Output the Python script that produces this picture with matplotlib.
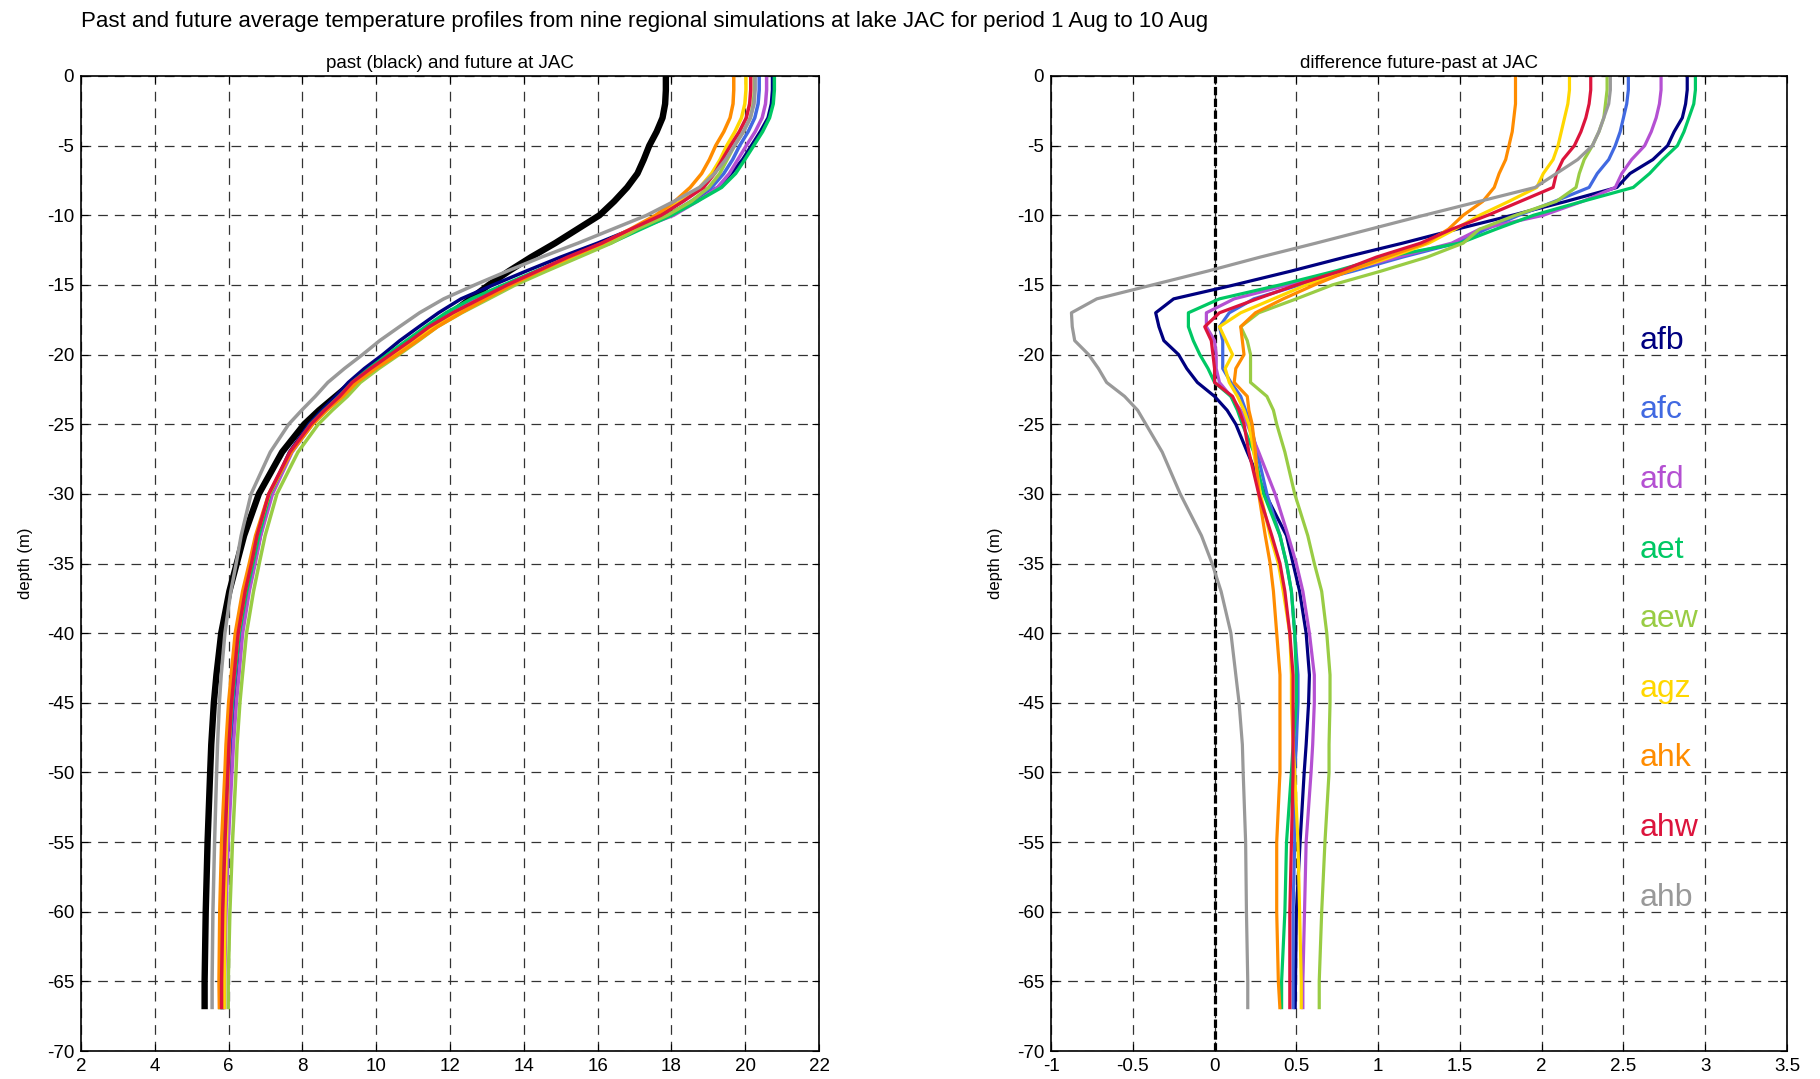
import numpy as np
import matplotlib.pyplot as plt

plt.rcParams['font.family'] = ['Liberation Sans', 'DejaVu Sans']
plt.rcParams['axes.unicode_minus'] = False
plt.rcParams['lines.scale_dashes'] = False

# depth levels (m, positive down)
depth = [0, 1, 2, 3, 4, 5, 6, 7, 8, 9, 10, 11, 12, 13, 14, 15, 16, 17, 18, 19, 20,
         21, 22, 23, 24, 25, 27, 30, 33, 35, 37, 40, 43, 45, 48, 50, 55, 60, 65, 67]

# past profile (black)
past = [17.85, 17.85, 17.83, 17.76, 17.6, 17.4, 17.25, 17.08, 16.8, 16.45, 16.05,
        15.45, 14.85, 14.2, 13.6, 13.05, 12.55, 12.05, 11.5, 10.95, 10.4,
        9.85, 9.35, 8.9, 8.45, 8.05, 7.45, 6.82, 6.42, 6.22, 6.02, 5.8, 5.67, 5.6,
        5.53, 5.5, 5.43, 5.38, 5.35, 5.35]

# difference future - past for each simulation
afb = [2.89, 2.89, 2.88, 2.86, 2.81, 2.77, 2.68, 2.54, 2.46, 2.15, 1.82, 1.48,
       1.15, 0.80, 0.47, 0.12, -0.25, -0.36, -0.34, -0.31, -0.22, -0.17, -0.105,
       0.0, 0.077, 0.13, 0.20, 0.31, 0.44, 0.48, 0.52, 0.56, 0.58, 0.575, 0.56,
       0.548, 0.523, 0.50, 0.495, 0.493]
afc = [2.53, 2.53, 2.52, 2.50, 2.48, 2.45, 2.41, 2.34, 2.29, 2.08, 1.86, 1.66,
       1.48, 1.15, 0.85, 0.52, 0.24, 0.09, 0.03, 0.05, 0.05, 0.05, 0.10, 0.16,
       0.19, 0.22, 0.26, 0.32, 0.40, 0.44, 0.47, 0.49, 0.51, 0.51, 0.50, 0.49,
       0.49, 0.48, 0.48, 0.48]
afd = [2.73, 2.73, 2.72, 2.70, 2.67, 2.63, 2.55, 2.49, 2.45, 2.25, 2.01, 1.62,
       1.45, 1.12, 0.80, 0.45, 0.12, -0.05, -0.05, 0.0, 0.01, 0.01, 0.03, 0.10,
       0.16, 0.20, 0.27, 0.37, 0.45, 0.50, 0.54, 0.58, 0.61, 0.61, 0.60, 0.59,
       0.56, 0.55, 0.54, 0.54]
aet = [2.94, 2.94, 2.93, 2.90, 2.87, 2.83, 2.74, 2.66, 2.56, 2.25, 1.95, 1.72,
       1.50, 1.04, 0.74, 0.40, 0.03, -0.16, -0.16, -0.13, -0.09, -0.04, 0.0,
       0.10, 0.14, 0.17, 0.24, 0.30, 0.40, 0.44, 0.47, 0.49, 0.50, 0.50, 0.48,
       0.47, 0.44, 0.43, 0.41, 0.41]
aew = [2.40, 2.40, 2.39, 2.38, 2.35, 2.31, 2.26, 2.23, 2.21, 2.09, 1.84, 1.62,
       1.52, 1.30, 1.02, 0.72, 0.50, 0.27, 0.16, 0.20, 0.22, 0.22, 0.22, 0.32,
       0.36, 0.38, 0.43, 0.49, 0.57, 0.61, 0.655, 0.686, 0.706, 0.706, 0.70,
       0.70, 0.675, 0.655, 0.64, 0.64]
agz = [2.17, 2.17, 2.16, 2.14, 2.12, 2.10, 2.07, 2.01, 1.97, 1.80, 1.62, 1.47,
       1.31, 1.08, 0.82, 0.56, 0.36, 0.16, 0.03, 0.07, 0.11, 0.065, 0.09, 0.14,
       0.18, 0.21, 0.24, 0.28, 0.34, 0.39, 0.42, 0.46, 0.47, 0.47, 0.48, 0.49,
       0.51, 0.52, 0.53, 0.53]
ahk = [1.84, 1.84, 1.84, 1.83, 1.82, 1.80, 1.78, 1.74, 1.71, 1.64, 1.52, 1.43,
       1.29, 1.05, 0.82, 0.61, 0.42, 0.25, 0.16, 0.17, 0.18, 0.13, 0.12, 0.20,
       0.21, 0.23, 0.25, 0.27, 0.31, 0.34, 0.36, 0.38, 0.40, 0.40, 0.40, 0.40,
       0.38, 0.38, 0.39, 0.40]
ahw = [2.30, 2.30, 2.29, 2.27, 2.24, 2.20, 2.13, 2.09, 2.07, 1.87, 1.67, 1.45,
       1.26, 0.99, 0.77, 0.50, 0.26, 0.03, -0.06, -0.02, -0.01, 0.0, 0.0, 0.11,
       0.15, 0.18, 0.21, 0.27, 0.35, 0.40, 0.43, 0.46, 0.48, 0.48, 0.48, 0.48,
       0.47, 0.46, 0.46, 0.46]
ahb = [2.42, 2.42, 2.41, 2.38, 2.35, 2.31, 2.22, 2.09, 1.96, 1.62, 1.28, 0.95,
       0.62, 0.28, -0.04, -0.38, -0.72, -0.875, -0.87, -0.855, -0.77, -0.71,
       -0.66, -0.55, -0.47, -0.42, -0.32, -0.21, -0.08, -0.015, 0.04, 0.10,
       0.13, 0.15, 0.17, 0.175, 0.19, 0.195, 0.203, 0.203]

names = ['afb', 'afc', 'afd', 'aet', 'aew', 'agz', 'ahk', 'ahw', 'ahb']
diffs = [afb, afc, afd, aet, aew, agz, ahk, ahw, ahb]
colors = ['#000080', '#4169E1', '#B450D2', '#00C864', '#99CC44',
          '#FFD700', '#FF8C00', '#DC143C', '#999999']


def style_axes(ax, xlim, xticks, xlabels):
    ax.set_xlim(xlim)
    ax.set_ylim(-70, 0)
    ax.set_xticks(xticks)
    ax.set_xticklabels(xlabels)
    ax.set_yticks(np.arange(0, -71, -5))
    ax.set_yticklabels([str(v) for v in range(0, -71, -5)])
    ax.grid(True, color='0.2', lw=0.9, ls=(0, (7, 5)))
    ax.set_axisbelow(True)
    ax.tick_params(direction='in', top=True, right=True, length=5,
                   labelsize=13.5, pad=5)
    for s in ax.spines.values():
        s.set_linewidth(1.2)
    ax.set_ylabel('depth (m)', fontsize=12, labelpad=10)


fig = plt.figure(figsize=(18.2, 10.79), dpi=100)
W, H = 1820, 1079
ax1 = fig.add_axes([81 / W, 28 / H, 738 / W, 975 / H])
ax2 = fig.add_axes([1051 / W, 28 / H, 736 / W, 975 / H])

z = -np.array(depth)
p = np.array(past)

ax1.plot(p, z, color='black', lw=4.6, solid_capstyle='butt')
for name, d, c in zip(names, diffs, colors):
    ax1.plot(p + np.array(d), z, color=c, lw=2.5, solid_capstyle='butt')
style_axes(ax1, (2, 22), np.arange(2, 23, 2), [str(v) for v in range(2, 23, 2)])
ax1.set_title('past (black) and future at JAC', fontsize=13.5, pad=6)

ax2.axvline(0, color='black', lw=2.3, ls=(0, (6, 2.5)))
for name, d, c in zip(names, diffs, colors):
    ax2.plot(d, z, color=c, lw=2.3, solid_capstyle='butt')
xt = np.arange(-1, 3.51, 0.5)
style_axes(ax2, (-1, 3.5), xt, ['%g' % v for v in xt])
ax2.set_title('difference future-past at JAC', fontsize=13.5, pad=6)

for i, (name, c) in enumerate(zip(names, colors)):
    ax2.text(2.6, -19 - 5 * i, name, color=c, fontsize=23, va='center', ha='left')

fig.text(81 / W, 1 - 22 / H, 'Past and future average temperature profiles from nine '
         'regional simulations at lake JAC for period 1 Aug to 10 Aug',
         fontsize=16, ha='left', va='center')

fig.savefig('out.png', dpi=100)
